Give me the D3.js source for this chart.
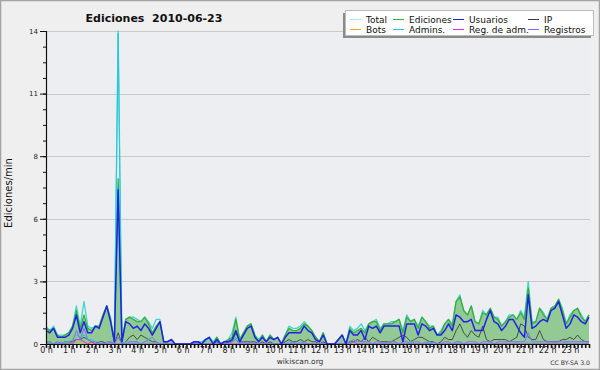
<!DOCTYPE html>
<html>
<head>
<meta charset="utf-8">
<script src="https://cdn.jsdelivr.net/npm/d3@7/dist/d3.min.js"></script>
<style>
  body { margin: 0; background: #efefef; }
  svg { display: block; font-family: "DejaVu Sans", sans-serif; }
</style>
</head>
<body>
<div id="chart"></div>
<script>
// one value every 10 minutes, edits per minute (6 per hour, 144 per day)
const hourLabels = d3.range(0, 24).map(h => h + " h");

const total = [
  0.8, 0.6, 0.8, 0.4, 0.4, 0.4,   0.5, 0.8, 1.7, 0.8, 1.9, 0.8,
  0.7, 0.8, 0.8, 1.3, 1.7, 1.2,   0.1, 14.0, 0.1, 1.1, 1.2, 1.2,
  1.1, 1.0, 1.2, 1.0, 0.7, 1.1,   1.1, 0.1, 0.1, 0.2, 0.0, 0.0,
  0.0, 0.0, 0.0, 0.1, 0.1, 0.1,   0.2, 0.3, 0.1, 0.3, 0.0, 0.1,
  0.2, 0.5, 1.2, 0.2, 0.5, 0.8,   0.9, 0.4, 0.2, 0.4, 0.1, 0.4,
  0.2, 0.3, 0.0, 0.4, 0.8, 0.7,   0.7, 0.8, 1.0, 0.8, 0.6, 0.3,
  0.1, 0.5, 0.0, 0.0, 0.0, 0.2,   0.4, 0.0, 0.8, 0.6, 0.7, 0.9,
  0.6, 0.9, 1.0, 1.1, 0.7, 0.9,   0.9, 1.0, 1.0, 1.1, 0.6, 1.3,
  1.0, 1.1, 0.8, 1.2, 1.0, 0.8,   0.8, 0.4, 0.6, 0.9, 1.1, 0.9,
  1.9, 2.2, 1.5, 1.3, 1.7, 1.0,   0.9, 1.5, 1.3, 1.6, 1.2, 1.2,
  0.8, 1.0, 1.3, 1.3, 1.1, 1.5,   1.2, 2.8, 1.0, 1.0, 1.6, 1.4,
  1.1, 1.6, 1.7, 2.0, 1.6, 0.9,   1.3, 1.5, 1.6, 1.3, 1.0, 1.3
];

const ediciones = [
  0.7, 0.6, 0.7, 0.4, 0.3, 0.4,   0.5, 0.8, 1.5, 0.7, 1.3, 0.7,
  0.6, 0.8, 0.8, 1.3, 1.7, 1.1,   0.1, 7.4, 0.1, 1.1, 1.2, 1.1,
  1.0, 1.0, 1.2, 0.9, 0.5, 0.8,   1.0, 0.1, 0.1, 0.2, 0.0, 0.0,
  0.0, 0.0, 0.0, 0.1, 0.1, 0.0,   0.2, 0.3, 0.0, 0.3, 0.0, 0.1,
  0.2, 0.3, 1.1, 0.2, 0.5, 0.8,   0.9, 0.4, 0.1, 0.4, 0.1, 0.4,
  0.2, 0.3, 0.0, 0.4, 0.7, 0.6,   0.6, 0.7, 0.9, 0.8, 0.6, 0.3,
  0.1, 0.5, 0.0, 0.0, 0.0, 0.2,   0.4, 0.0, 0.7, 0.5, 0.6, 0.7,
  0.5, 0.9, 1.0, 1.0, 0.6, 0.9,   0.9, 0.9, 1.0, 1.1, 0.5, 1.2,
  1.0, 1.1, 0.7, 1.2, 1.0, 0.7,   0.8, 0.4, 0.5, 0.9, 1.1, 0.8,
  1.9, 2.1, 1.5, 1.3, 1.7, 1.0,   0.9, 1.4, 1.3, 1.6, 1.2, 1.1,
  0.8, 1.0, 1.2, 1.3, 1.1, 1.4,   1.1, 2.5, 0.9, 1.0, 1.6, 1.3,
  1.1, 1.6, 1.7, 2.0, 1.5, 0.9,   1.2, 1.5, 1.6, 1.2, 1.0, 1.3
];

const usuarios = [
  0.6, 0.5, 0.7, 0.3, 0.3, 0.3,   0.4, 0.7, 1.3, 0.5, 1.0, 0.5,
  0.5, 0.8, 0.7, 1.2, 1.7, 1.0,   0.1, 6.9, 0.1, 1.0, 0.9, 0.7,
  0.8, 0.6, 0.9, 0.7, 0.4, 0.7,   1.0, 0.1, 0.1, 0.2, 0.0, 0.0,
  0.0, 0.0, 0.0, 0.1, 0.1, 0.0,   0.2, 0.3, 0.0, 0.2, 0.0, 0.1,
  0.1, 0.2, 0.6, 0.1, 0.4, 0.7,   0.8, 0.3, 0.1, 0.3, 0.1, 0.3,
  0.2, 0.3, 0.0, 0.3, 0.5, 0.5,   0.5, 0.5, 0.8, 0.6, 0.5, 0.2,
  0.1, 0.4, 0.0, 0.0, 0.0, 0.2,   0.4, 0.0, 0.6, 0.4, 0.4, 0.6,
  0.2, 0.8, 0.7, 0.8, 0.5, 0.8,   0.8, 0.8, 0.8, 0.8, 0.1, 0.9,
  0.9, 0.9, 0.4, 0.9, 0.8, 0.6,   0.7, 0.4, 0.4, 0.6, 0.9, 0.6,
  1.3, 1.2, 1.0, 1.0, 1.1, 0.6,   0.6, 0.6, 1.1, 1.5, 1.0, 0.9,
  0.6, 0.8, 1.1, 1.1, 0.8, 0.5,   0.3, 2.2, 0.7, 0.8, 1.0, 1.1,
  1.0, 1.5, 1.6, 1.9, 1.3, 0.7,   0.9, 1.3, 1.2, 1.0, 0.9, 1.2
];

const ip = [
  0.1, 0.1, 0.0, 0.1, 0.0, 0.1,   0.1, 0.1, 0.2, 0.2, 0.3, 0.2,
  0.1, 0.0, 0.1, 0.1, 0.0, 0.1,   0.0, 0.5, 0.0, 0.1, 0.3, 0.4,
  0.2, 0.4, 0.3, 0.2, 0.1, 0.1,   0.0, 0.0, 0.0, 0.0, 0.0, 0.0,
  0.0, 0.0, 0.0, 0.0, 0.0, 0.0,   0.0, 0.0, 0.0, 0.1, 0.0, 0.0,
  0.1, 0.1, 0.5, 0.1, 0.1, 0.1,   0.1, 0.1, 0.0, 0.1, 0.0, 0.1,
  0.0, 0.0, 0.0, 0.1, 0.2, 0.1,   0.1, 0.2, 0.1, 0.2, 0.1, 0.1,
  0.0, 0.1, 0.0, 0.0, 0.0, 0.0,   0.0, 0.0, 0.1, 0.1, 0.2, 0.1,
  0.3, 0.1, 0.3, 0.2, 0.1, 0.1,   0.1, 0.1, 0.2, 0.3, 0.4, 0.3,
  0.1, 0.2, 0.3, 0.3, 0.2, 0.1,   0.1, 0.0, 0.1, 0.3, 0.2, 0.2,
  0.6, 0.9, 0.5, 0.3, 0.6, 0.4,   0.3, 0.8, 0.2, 0.1, 0.2, 0.2,
  0.2, 0.2, 0.1, 0.2, 0.3, 0.9,   0.8, 0.3, 0.2, 0.2, 0.6, 0.2,
  0.1, 0.1, 0.1, 0.1, 0.2, 0.2,   0.3, 0.2, 0.4, 0.2, 0.1, 0.1
];

const bots = [
  0, 0, 0, 0, 0, 0,   0, 0, 0, 0, 0, 0,   0, 0, 0, 0, 0, 0,   0, 0, 0, 0, 0, 0,
  0, 0, 0, 0, 0, 0,   0, 0, 0, 0, 0, 0,   0, 0, 0, 0, 0, 0,   0, 0, 0, 0, 0, 0,
  0, 0, 0, 0, 0, 0,   0, 0, 0, 0, 0, 0,   0, 0, 0, 0, 0, 0,   0, 0, 0, 0, 0, 0,
  0, 0, 0, 0, 0, 0,   0, 0, 0, 0, 0, 0,   0, 0, 0, 0, 0, 0,   0, 0, 0, 0, 0, 0,
  0, 0, 0, 0, 0, 0,   0, 0, 0, 0, 0, 0,   0, 0, 0, 0, 0, 0,   0, 0, 0, 0, 0, 0,
  0, 0, 0, 0, 0, 0,   0, 0, 0, 0, 0, 0,   0, 0, 0, 0, 0, 0,   0, 0, 0, 0, 0, 0
];

const admins = [
  0.1, 0.1, 0.0, 0.1, 0.0, 0.1,   0.1, 0.2, 0.4, 0.3, 0.4, 0.2,
  0.2, 0.1, 0.1, 0.0, 0.0, 0.1,   0.0, 13.9, 0.0, 0.1, 0.1, 0.0,
  0.1, 0.0, 0.1, 0.1, 0.0, 0.1,   0.0, 0.0, 0.0, 0.0, 0.0, 0.0,
  0.0, 0.0, 0.0, 0.0, 0.0, 0.0,   0.1, 0.3, 0.0, 0.0, 0.0, 0.0,
  0.0, 0.1, 0.3, 0.0, 0.1, 0.0,   0.1, 0.0, 0.0, 0.0, 0.0, 0.0,
  0.0, 0.0, 0.0, 0.0, 0.1, 0.0,   0.0, 0.1, 0.0, 0.0, 0.0, 0.0,
  0.0, 0.0, 0.0, 0.0, 0.0, 0.0,   0.0, 0.0, 0.0, 0.1, 0.0, 0.0,
  0.1, 0.0, 0.0, 0.0, 0.1, 0.0,   0.0, 0.0, 0.1, 0.0, 0.0, 0.0,
  0.1, 0.0, 0.0, 0.0, 0.0, 0.1,   0.0, 0.0, 0.0, 0.0, 0.0, 0.0,
  0.0, 0.1, 0.0, 0.0, 0.0, 0.0,   0.0, 0.0, 0.0, 0.1, 0.0, 0.0,
  0.0, 0.0, 0.0, 0.0, 0.1, 0.0,   0.0, 0.1, 0.0, 0.0, 0.0, 0.0,
  0.0, 0.0, 0.0, 0.0, 0.0, 0.1,   0.0, 0.0, 0.0, 0.1, 0.0, 0.0
];

const regAdm = [
  0.0, 0.0, 0.0, 0.0, 0.0, 0.0,   0.0, 0.0, 0.2, 0.2, 0.1, 0.0,
  0.1, 0.0, 0.0, 0.0, 0.0, 0.0,   0.0, 0.0, 0.0, 0.0, 0.0, 0.0,
  0.0, 0.0, 0.0, 0.0, 0.0, 0.0,   0.0, 0.0, 0.0, 0.0, 0.0, 0.0,
  0.0, 0.0, 0.0, 0.0, 0.0, 0.0,   0.0, 0.0, 0.0, 0.0, 0.0, 0.0,
  0.0, 0.0, 0.0, 0.0, 0.0, 0.0,   0.0, 0.0, 0.0, 0.0, 0.0, 0.0,
  0.0, 0.0, 0.0, 0.0, 0.0, 0.0,   0.0, 0.0, 0.0, 0.0, 0.0, 0.0,
  0.0, 0.0, 0.0, 0.0, 0.0, 0.0,   0.0, 0.0, 0.0, 0.1, 0.0, 0.0,
  0.0, 0.0, 0.0, 0.0, 0.0, 0.0,   0.0, 0.0, 0.0, 0.0, 0.0, 0.0,
  0.0, 0.0, 0.0, 0.0, 0.0, 0.0,   0.1, 0.0, 0.0, 0.0, 0.0, 0.0,
  0.0, 0.0, 0.0, 0.0, 0.0, 0.0,   0.0, 0.0, 0.0, 0.0, 0.0, 0.0,
  0.0, 0.0, 0.0, 0.0, 0.0, 0.0,   0.0, 0.0, 0.0, 0.0, 0.0, 0.0,
  0.0, 0.0, 0.0, 0.0, 0.0, 0.0,   0.0, 0.0, 0.0, 0.0, 0.0, 0.0
];

const registros = [
  0.1, 0.0, 0.0, 0.0, 0.1, 0.0,   0.0, 0.1, 0.6, 0.2, 0.7, 0.2,
  0.1, 0.1, 0.0, 0.0, 0.1, 0.1,   0.0, 0.3, 0.0, 0.0, 0.1, 0.1,
  0.1, 0.0, 0.1, 0.2, 0.3, 0.1,   0.0, 0.0, 0.0, 0.0, 0.0, 0.0,
  0.0, 0.0, 0.0, 0.0, 0.0, 0.0,   0.0, 0.0, 0.0, 0.0, 0.0, 0.0,
  0.0, 0.1, 0.2, 0.0, 0.1, 0.0,   0.1, 0.0, 0.0, 0.0, 0.0, 0.0,
  0.0, 0.0, 0.0, 0.0, 0.0, 0.1,   0.0, 0.0, 0.1, 0.0, 0.0, 0.0,
  0.0, 0.0, 0.0, 0.0, 0.0, 0.0,   0.0, 0.0, 0.1, 0.2, 0.1, 0.1,
  0.1, 0.1, 0.0, 0.1, 0.1, 0.0,   0.1, 0.1, 0.1, 0.0, 0.1, 0.1,
  0.0, 0.1, 0.1, 0.0, 0.1, 0.0,   0.1, 0.0, 0.0, 0.1, 0.1, 0.0,
  0.1, 0.1, 0.0, 0.1, 0.1, 0.1,   0.0, 0.1, 0.1, 0.1, 0.0, 0.1,
  0.1, 0.1, 0.1, 0.1, 0.1, 0.1,   0.1, 0.5, 0.1, 0.1, 0.1, 0.1,
  0.1, 0.1, 0.1, 0.1, 0.1, 0.1,   0.1, 0.1, 0.1, 0.1, 0.1, 0.1
];

const yTicks = [0, 2.8, 5.6, 8.4, 11.2, 14];

const series = [
  { name: "Total", values: total, color: "#3fd6cc", width: 1.3 },
  { name: "Ediciones", values: ediciones, color: "#3aae3a", width: 1.3 },
  { name: "Usuarios", values: usuarios, color: "#1f23e8", width: 1.5 },
  { name: "IP", values: ip, color: "#3a3a3a", width: 1 },
  { name: "Bots", values: bots, color: "#f5a623", width: 1 },
  { name: "Admins.", values: admins, color: "#27c6e2", width: 1 },
  { name: "Reg. de adm.", values: regAdm, color: "#e02ae0", width: 1 },
  { name: "Registros", values: registros, color: "#7474ff", width: 1 }
];

const W = 600, H = 370;
const plot = { left: 46, right: 589, top: 31, bottom: 344 };

const svg = d3.select("#chart").append("svg")
  .attr("width", W).attr("height", H);

svg.append("rect").attr("x", 0.5).attr("y", 0.5)
  .attr("width", W - 1).attr("height", H - 1)
  .attr("fill", "#efefef").attr("stroke", "#a4a4a4").attr("stroke-width", 1.5);

svg.append("rect")
  .attr("x", plot.left).attr("y", plot.top)
  .attr("width", plot.right - plot.left + 1).attr("height", plot.bottom - plot.top)
  .attr("fill", "#eceef1");

const x = d3.scaleLinear().domain([0, 143]).range([plot.left, plot.right]);
const y = d3.scaleLinear().domain([0, 14]).range([plot.bottom, plot.top]);

// grid
svg.append("g").selectAll("line")
  .data(yTicks.filter(d => d > 0)).enter().append("line")
  .attr("x1", plot.left).attr("x2", plot.right + 1)
  .attr("y1", d => Math.round(y(d)) + 0.5).attr("y2", d => Math.round(y(d)) + 0.5)
  .attr("stroke", "#c9c9cb").attr("stroke-width", 1);

// filled edits area
const area = d3.area()
  .x((d, i) => x(i))
  .y0(y(0))
  .y1(d => y(d));
svg.append("path").datum(ediciones)
  .attr("d", area)
  .attr("fill", "#93c993");

const line = d3.line()
  .x((d, i) => x(i))
  .y(d => y(d));

const drawOrder = ["Total", "Ediciones", "IP", "Bots", "Admins.", "Reg. de adm.", "Registros", "Usuarios"];
drawOrder.forEach(name => {
  const s = series.find(d => d.name === name);
  svg.append("path").datum(s.values)
    .attr("d", line)
    .attr("fill", "none")
    .attr("stroke", s.color)
    .attr("stroke-width", s.width)
    .attr("stroke-linejoin", "round")
    .attr("opacity", name === "IP" ? 0.85 : 1);
});

// y axis
const yAxis = svg.append("g")
  .attr("transform", `translate(${plot.left},0)`)
  .call(d3.axisLeft(y).tickValues(yTicks).tickSize(6).tickPadding(2)
    .tickFormat(d => Math.round(d)));
svg.append("g")
  .attr("transform", `translate(${plot.left},0)`)
  .call(d3.axisLeft(y).tickValues(d3.range(0, 14.01, 0.7)).tickSize(3).tickFormat(""))
  .select(".domain").remove();
yAxis.selectAll("text").attr("font-size", 7).attr("fill", "#222")
  .attr("font-family", "DejaVu Sans");
svg.selectAll(".tick line").attr("stroke", "#111");
yAxis.select(".domain").attr("stroke", "#111").attr("stroke-width", 1.2);

// x axis: a tick every 10 minutes, label every hour
const xAxis = svg.append("g")
  .attr("transform", `translate(0,${plot.bottom})`)
  .call(d3.axisBottom(x).tickValues(d3.range(0, 144)).tickSize(4).tickPadding(-1)
    .tickSizeOuter(0)
    .tickFormat(i => i % 6 === 0 ? hourLabels[i / 6] : ""));
xAxis.select(".domain").attr("stroke", "#111").attr("stroke-width", 1.2);
xAxis.selectAll(".tick line").attr("stroke", "#111").attr("stroke-width", 1.6);
xAxis.selectAll("text").attr("font-size", 8).attr("fill", "#222")
  .attr("font-family", "DejaVu Sans");

// titles
svg.append("text").attr("x", 154).attr("y", 22)
  .attr("text-anchor", "middle")
  .attr("font-size", 11).attr("font-weight", "bold").attr("fill", "#111")
  .attr("xml:space", "preserve")
  .text("Ediciones  2010-06-23");

svg.append("text")
  .attr("transform", `translate(12,193) rotate(-90)`)
  .attr("text-anchor", "middle")
  .attr("font-size", 10).attr("fill", "#111")
  .text("Ediciones/min");

svg.append("text").attr("x", 300).attr("y", 364)
  .attr("text-anchor", "middle").attr("font-size", 7.5).attr("fill", "#333")
  .text("wikiscan.org");

svg.append("text").attr("x", 590).attr("y", 365)
  .attr("text-anchor", "end").attr("font-size", 6.2).attr("fill", "#333")
  .text("CC BY-SA 3.0");

// legend
const legend = svg.append("g");
legend.append("rect").attr("x", 343).attr("y", 13).attr("width", 248).attr("height", 25)
  .attr("fill", "#8a8a8a");
legend.append("rect").attr("x", 345.5).attr("y", 10.5).attr("width", 248).attr("height", 25)
  .attr("fill", "#fff").attr("stroke", "#bbb");

const legendCols = [350, 393, 453, 528];
series.forEach((s, k) => {
  const col = legendCols[k % 4];
  const row = Math.floor(k / 4);
  const ly = 19 + row * 10;
  const g = legend.append("g");
  g.append("line").attr("x1", col).attr("x2", col + 11)
    .attr("y1", ly + 0.5).attr("y2", ly + 0.5)
    .attr("stroke", s.name === "Total" ? "#a6e9e9" : s.color).attr("stroke-width", 1);
  g.append("text").attr("x", col + 16).attr("y", ly + 3.5)
    .attr("font-size", 9).attr("fill", "#111")
    .text(s.name);
});
</script>
</body>
</html>
